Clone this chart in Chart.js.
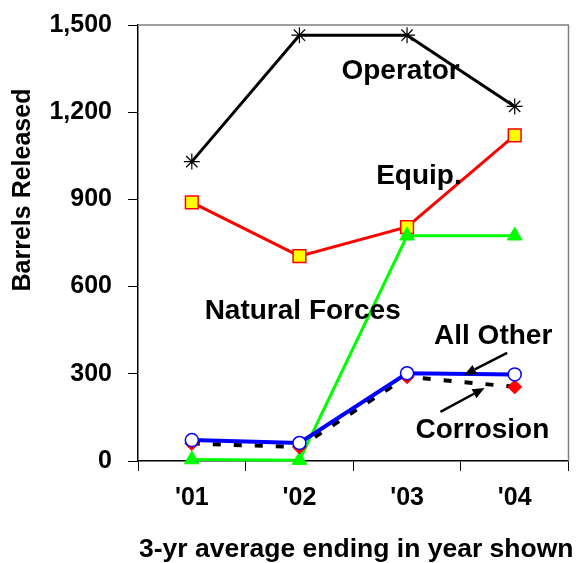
<!DOCTYPE html>
<html>
<head>
<meta charset="utf-8">
<script src="https://cdn.jsdelivr.net/npm/chart.js@4.4.1/dist/chart.umd.min.js"></script>
<style>
  html, body { margin: 0; padding: 0; background: #fff; }
</style>
</head>
<body>
<canvas id="myChart" width="579" height="563"></canvas>
<script>
const years = ["'01", "'02", "'03", "'04"]; // 3-yr average ending in year
const operator = [1030, 1465, 1465, 1220];
const equip = [890, 705, 805, 1120];
const naturalForces = [5, 3, 775, 775];
const allOther = [72, 62, 302, 298];
const corrosion = [60, 48, 290, 255];
const yTicks = [0, 300, 600, 900, 1200, 1500];

// labels written inside the plot, placed in data units (category index, barrels)
const seriesLabels = [
  { text: "Operator", x: 1.94, y: 1340 },
  { text: "Equip.", x: 2.11, y: 980 },
  { text: "Natural Forces", x: 1.03, y: 516 },
  { text: "All Other", x: 2.8, y: 430 },
  { text: "Corrosion", x: 2.7, y: 107 },
];
const arrows = [
  { from: [2.93, 372], to: [2.53, 296] },
  { from: [2.31, 169], to: [2.72, 251] },
];

const FONT = "Liberation Sans";
Chart.defaults.font.family = FONT;
Chart.defaults.color = "#000";

const extras = {
  id: "extras",
  beforeDatasetsDraw(chart) {
    const { ctx, chartArea: a } = chart;
    ctx.save();
    ctx.strokeStyle = "#808080"; // grey frame top + right
    ctx.lineWidth = 1.5;
    ctx.beginPath();
    ctx.moveTo(a.left, a.top);
    ctx.lineTo(a.right, a.top);
    ctx.lineTo(a.right, a.bottom);
    ctx.stroke();
    ctx.restore();
  },
  afterDraw(chart) {
    const { ctx, chartArea: a, scales: { x, y } } = chart;
    ctx.save();
    ctx.fillStyle = "#000";
    ctx.textAlign = "center";
    ctx.textBaseline = "middle";
    ctx.font = "bold 28px " + FONT;
    seriesLabels.forEach((l) => {
      ctx.fillText(l.text, x.getPixelForValue(l.x), y.getPixelForValue(l.y));
    });

    // arrows
    ctx.strokeStyle = "#000";
    ctx.lineWidth = 2.5;
    arrows.forEach((ar) => {
      const x0 = x.getPixelForValue(ar.from[0]), y0 = y.getPixelForValue(ar.from[1]);
      const x1 = x.getPixelForValue(ar.to[0]), y1 = y.getPixelForValue(ar.to[1]);
      const ang = Math.atan2(y1 - y0, x1 - x0);
      const hl = 12, hw = 5;
      const bx = x1 - Math.cos(ang) * hl, by = y1 - Math.sin(ang) * hl;
      ctx.beginPath();
      ctx.moveTo(x0, y0);
      ctx.lineTo(bx, by);
      ctx.stroke();
      ctx.beginPath();
      ctx.moveTo(x1, y1);
      ctx.lineTo(bx + Math.sin(ang) * hw, by - Math.cos(ang) * hw);
      ctx.lineTo(bx - Math.sin(ang) * hw, by + Math.cos(ang) * hw);
      ctx.closePath();
      ctx.fill();
    });

    // axis titles
    ctx.font = "bold 26.5px " + FONT;
    ctx.fillText("3-yr average ending in year shown", (a.left + a.right) / 2 + 3, 550);
    ctx.save();
    ctx.translate(23, 190);
    ctx.rotate(-Math.PI / 2);
    ctx.font = "bold 25px " + FONT;
    ctx.fillText("Barrels Released", 0, 0);
    ctx.restore();
    ctx.restore();
  },
};

const ctx = document.getElementById("myChart");
const myChart = new Chart(ctx, {
  type: "line",
  data: {
    labels: years,
    datasets: [
      {
        label: "All Other",
        data: allOther,
        borderColor: "#0000FF",
        borderWidth: 4,
        pointStyle: "circle",
        pointRadius: 6.5,
        pointBackgroundColor: "#FFFFFF",
        pointBorderColor: "#0000FF",
        pointBorderWidth: 1.5,
      },
      {
        label: "Corrosion",
        data: corrosion,
        borderColor: "#000000",
        borderWidth: 4,
        borderDash: [8, 13],
        pointStyle: "rectRot",
        pointRadius: 7,
        pointBackgroundColor: "#FF0000",
        pointBorderColor: "#FF0000",
        pointBorderWidth: 1,
      },
      {
        label: "Natural Forces",
        data: naturalForces,
        borderColor: "#00FF00",
        borderWidth: 3,
        pointStyle: "triangle",
        pointRadius: 8.5,
        pointBackgroundColor: "#00FF00",
        pointBorderColor: "#00FF00",
        pointBorderWidth: 1,
      },
      {
        label: "Equip.",
        data: equip,
        borderColor: "#FF0000",
        borderWidth: 3,
        pointStyle: "rect",
        pointRadius: 9,
        pointBackgroundColor: "#FFFF00",
        pointBorderColor: "#FF0000",
        pointBorderWidth: 1.5,
      },
      {
        label: "Operator",
        data: operator,
        borderColor: "#000000",
        borderWidth: 3,
        pointStyle: "star",
        pointRadius: 8,
        pointBorderColor: "#000000",
        pointBorderWidth: 1.2,
      },
    ],
  },
  options: {
    responsive: false,
    animation: false,
    layout: { padding: { top: 25, right: 7, left: 0, bottom: 0 } },
    datasets: { line: { clip: false, tension: 0 } },
    plugins: {
      legend: { display: false },
      tooltip: { enabled: false },
    },
    scales: {
      x: {
        offset: true,
        grid: { offset: true, drawOnChartArea: false, tickLength: 10, color: "#000" },
        border: { color: "#000", width: 1.5 },
        ticks: {
          color: "#000",
          font: { size: 25, weight: "bold" },
          padding: 12,
          maxRotation: 0,
        },
        afterFit(s) { s.height = 102; },
      },
      y: {
        min: 0,
        max: 1500,
        afterBuildTicks(s) { s.ticks = yTicks.map((v) => ({ value: v })); },
        grid: { drawOnChartArea: false, tickLength: 10, color: "#000" },
        border: { color: "#000", width: 1.5 },
        ticks: {
          color: "#000",
          font: { size: 25, weight: "bold" },
          padding: 16,
          callback: (v) => v.toLocaleString("en-US"),
        },
        afterFit(s) {
          s.width = 138;
          s.paddingTop = 0;
          s.paddingBottom = 0;
        },
      },
    },
  },
  plugins: [extras],
});
</script>
</body>
</html>
